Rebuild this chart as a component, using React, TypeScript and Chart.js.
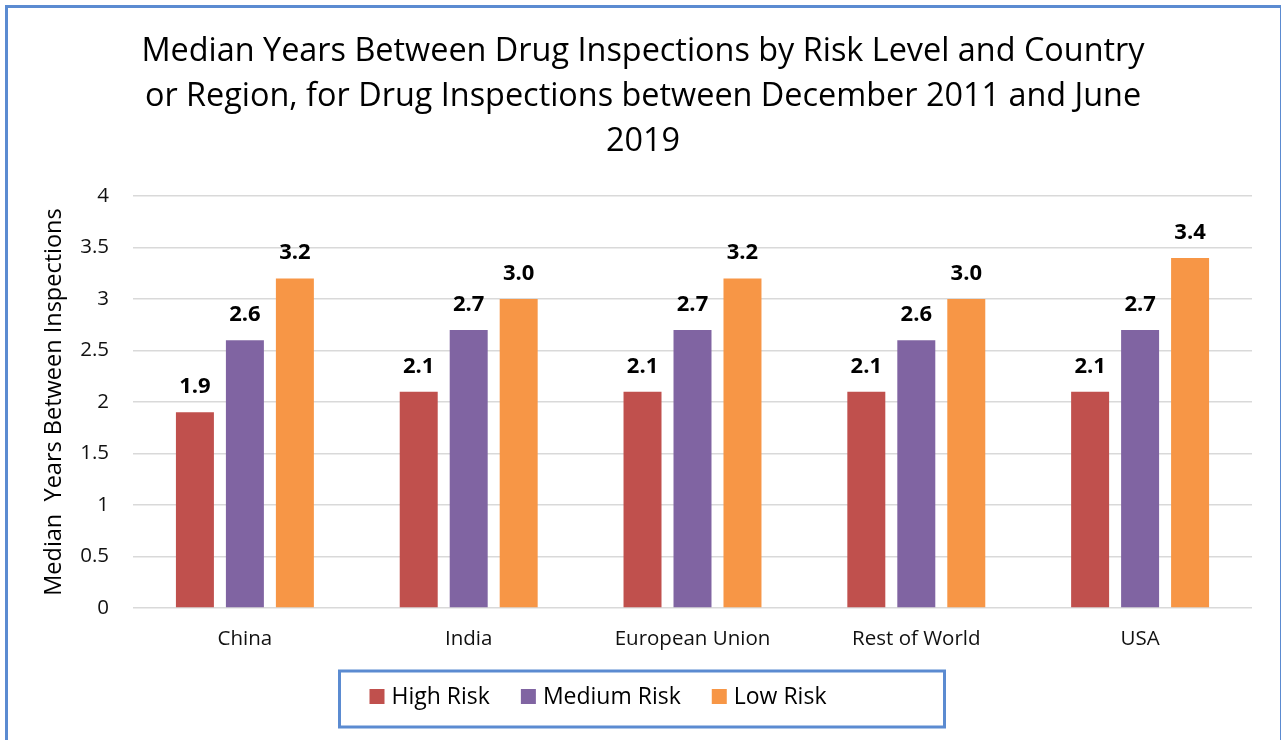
import React, { useEffect, useRef } from "react";
import { Chart, registerables } from "chart.js";

Chart.register(...registerables);

const categories = ["China", "India", "European Union", "Rest of World", "USA"];
const highRisk = [1.9, 2.1, 2.1, 2.1, 2.1];
const mediumRisk = [2.6, 2.7, 2.7, 2.6, 2.7];
const lowRisk = [3.2, 3.0, 3.2, 3.0, 3.4];
const seriesNames = ["High Risk", "Medium Risk", "Low Risk"];
const seriesColors = ["#C0504D", "#8064A2", "#F79646"];
const titleLines = [
  "Median Years Between Drug Inspections by Risk Level and Country",
  "or Region, for Drug Inspections between December 2011 and June",
  "2019",
];
const yAxisTitle = "Median  Years Between Inspections";
const yMin = 0;
const yMax = 4;
const yStep = 0.5;

const FONT = "'Open Sans', 'DejaVu Sans', sans-serif";
const BLUE = "#5B8BD1";

const dataLabelPlugin = {
  id: "dataLabels",
  afterDatasetsDraw(chart: any) {
    const ctx = chart.ctx;
    ctx.save();
    ctx.font = `bold 22px ${FONT}`;
    ctx.fillStyle = "#000";
    ctx.textAlign = "center";
    ctx.textBaseline = "alphabetic";
    chart.data.datasets.forEach((ds: any, i: number) => {
      const meta = chart.getDatasetMeta(i);
      meta.data.forEach((el: any, j: number) => {
        const v = ds.data[j] as number;
        ctx.fillText(v.toFixed(1), el.x, el.y - 19);
      });
    });
    ctx.restore();
  },
};

const boxedLegendPlugin = {
  id: "boxedLegend",
  afterDraw(chart: any) {
    const ctx = chart.ctx;
    const top = chart.chartArea.bottom + 63;
    const boxLeft = chart.width / 2 - 301;
    ctx.save();
    ctx.strokeStyle = BLUE;
    ctx.lineWidth = 3;
    ctx.strokeRect(boxLeft, top, 605, 56);
    ctx.font = `23px ${FONT}`;
    ctx.textBaseline = "middle";
    ctx.textAlign = "left";
    let x = boxLeft + 30;
    const cy = top + 26;
    chart.data.datasets.forEach((ds: any) => {
      ctx.fillStyle = ds.backgroundColor;
      ctx.fillRect(x, cy - 8, 15, 15);
      ctx.fillStyle = "#000";
      const tx = x + 22;
      ctx.fillText(ds.label, tx, cy);
      x = tx + ctx.measureText(ds.label).width + 31;
    });
    ctx.restore();
  },
};

export default function App() {
  const canvasRef = useRef<HTMLCanvasElement | null>(null);

  useEffect(() => {
    if (!canvasRef.current) return;
    Chart.defaults.font.family = FONT;
    const seriesValues = [highRisk, mediumRisk, lowRisk];
    const chart = new Chart(canvasRef.current, {
      type: "bar",
      data: {
        labels: categories,
        datasets: seriesNames.map((name, i) => ({
          label: name,
          data: seriesValues[i],
          backgroundColor: seriesColors[i],
          borderWidth: 0,
          categoryPercentage: 0.67,
          barPercentage: 0.76,
        })),
      },
      options: {
        responsive: false,
        animation: false,
        events: [],
        layout: { padding: { left: 34, right: 29, top: 0, bottom: 82 } },
        plugins: {
          legend: { display: false },
          tooltip: { enabled: false },
          title: {
            display: true,
            text: titleLines,
            color: "#000",
            font: { size: 32.4, weight: "normal", family: FONT, lineHeight: 1.39 },
            padding: { top: 29, bottom: 32 },
          },
        },
        scales: {
          x: {
            grid: { display: false, drawTicks: false },
            border: { display: false },
            ticks: { color: "#111", font: { size: 20.5 }, padding: 19 },
            afterFit: (s: any) => {
              s.height = 50;
            },
          },
          y: {
            min: yMin,
            max: yMax,
            grid: { color: "#d9d9d9", lineWidth: 1.5, drawTicks: false },
            border: { display: false },
            ticks: {
              stepSize: yStep,
              color: "#111",
              font: { size: 20.5 },
              padding: 24,
              callback: (v: any) => String(Number(v)),
            },
            title: {
              display: true,
              text: yAxisTitle,
              color: "#000",
              font: { size: 23.5, lineHeight: 1.2 },
              padding: { top: 6, bottom: 0 },
            },
            afterFit: (s: any) => {
              s.width = 99;
            },
          },
        },
      },
      plugins: [dataLabelPlugin, boxedLegendPlugin],
    });
    return () => chart.destroy();
  }, []);

  return (
    <div
      style={{
        position: "fixed",
        left: 0,
        top: 0,
        width: 1281,
        height: 740,
        overflow: "hidden",
        background: "#fff",
      }}
    >
      <div
        style={{
          position: "absolute",
          left: 5,
          top: 5,
          width: 1278,
          height: 800,
          border: `3px solid ${BLUE}`,
          boxSizing: "border-box",
        }}
      />
      <canvas
        ref={canvasRef}
        width={1281}
        height={740}
        style={{ position: "absolute", left: 0, top: 0 }}
      />
    </div>
  );
}
